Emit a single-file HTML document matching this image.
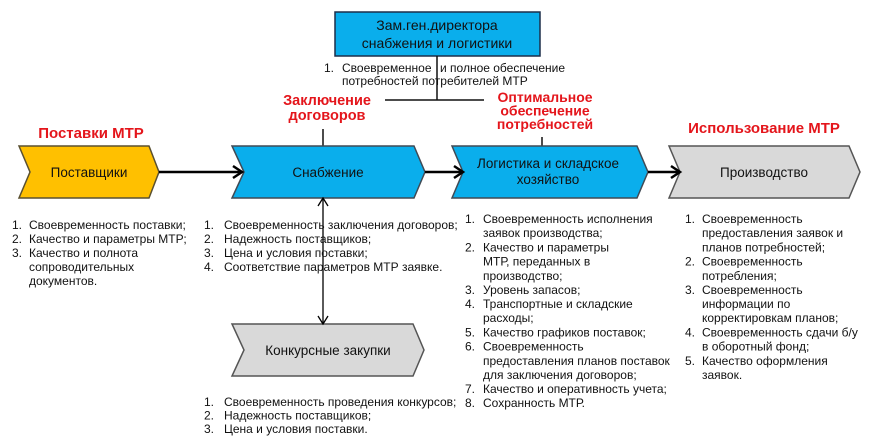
<!DOCTYPE html>
<html><head><meta charset="utf-8"><style>
html,body{margin:0;padding:0;background:#fff;}
svg{display:block;}
text{font-family:"Liberation Sans","DejaVu Sans",sans-serif;}
.l{font-size:12px;fill:#111;}
.c{font-size:13.5px;fill:#111;text-anchor:middle;}
.r{font-weight:bold;fill:#e4151b;text-anchor:middle;}
</style></head><body>
<svg width="870" height="446" viewBox="0 0 870 446" xmlns="http://www.w3.org/2000/svg">
<!-- director -->
<rect x="335" y="12" width="205" height="44" fill="#0aaeec" stroke="#1d2e4a" stroke-width="1.5"/>
<text x="437" y="30" style="font-size:14px;fill:#111" text-anchor="middle">Зам.ген.директора</text>
<text x="437" y="48" style="font-size:14px;fill:#111" text-anchor="middle">снабжения и логистики</text>
<text class="l" x="324" y="72">1.</text>
<text class="l" x="342" y="72">Своевременное</text>
<text class="l" x="440" y="72">и полное обеспечение</text>
<text class="l" x="342" y="85">потребностей потребителей МТР</text>
<line x1="437" y1="56" x2="437" y2="100" stroke="#111" stroke-width="1.5"/>
<line x1="385" y1="100" x2="484" y2="100" stroke="#111" stroke-width="1.5"/>
<line x1="323" y1="129" x2="323" y2="146" stroke="#111" stroke-width="1.5"/>
<line x1="542" y1="137" x2="542" y2="146" stroke="#111" stroke-width="1.5"/>

<!-- red labels -->
<text class="r" x="91" y="138" style="font-size:15px">Поставки МТР</text>
<text class="r" x="327" y="105" style="font-size:14.5px">Заключение</text>
<text class="r" x="327" y="120" style="font-size:14.5px">договоров</text>
<text class="r" x="545" y="102" style="font-size:14px">Оптимальное</text>
<text class="r" x="545" y="115.5" style="font-size:14px">обеспечение</text>
<text class="r" x="545" y="129" style="font-size:14px">потребностей</text>
<text class="r" x="764" y="133" style="font-size:15px">Использование МТР</text>

<!-- chevrons -->
<polygon points="19,146 149,146 159,172 149,198 19,198 30,172" fill="#ffc000" stroke="#5a5030" stroke-width="1.5"/>
<polygon points="232,146 414,146 425,172 414,198 232,198 244,172" fill="#0aaeec" stroke="#404a55" stroke-width="1.5"/>
<polygon points="452,146 637,146 648,172 637,198 452,198 463,172" fill="#0aaeec" stroke="#404a55" stroke-width="1.5"/>
<polygon points="669,146 849,146 860,172 849,198 669,198 680,172" fill="#d9d9d9" stroke="#555" stroke-width="1.5"/>
<polygon points="232,324 413,324 424,350 413,376 232,376 244,350" fill="#d9d9d9" stroke="#555" stroke-width="1.5"/>

<text class="c" x="89" y="177">Поставщики</text>
<text class="c" x="328" y="177">Снабжение</text>
<text class="c" x="548" y="168">Логистика и складское</text>
<text class="c" x="548" y="184">хозяйство</text>
<text class="c" x="764" y="177">Производство</text>
<text class="c" x="328" y="355">Конкурсные закупки</text>

<!-- arrows -->
<g stroke="#000" stroke-width="2.5" fill="none">
<line x1="159" y1="172" x2="241" y2="172"/>
<polyline points="233,166 242,172 233,178"/>
<line x1="425" y1="172" x2="462" y2="172"/>
<polyline points="454,166 463,172 454,178"/>
<line x1="648" y1="172" x2="679" y2="172"/>
<polyline points="671,166 680,172 671,178"/>
</g>
<g stroke="#000" stroke-width="1.3" fill="none">
<line x1="323" y1="199" x2="323" y2="323"/>
<polyline points="318,206 323,198 328,206"/>
<polyline points="318,316 323,324 328,316"/>
</g>

<!-- list 1 -->
<text class="l" x="12" y="229">1.</text><text class="l" x="29" y="229">Своевременность поставки;</text>
<text class="l" x="12" y="243">2.</text><text class="l" x="29" y="243">Качество и параметры МТР;</text>
<text class="l" x="12" y="257">3.</text><text class="l" x="29" y="257">Качество и полнота</text>
<text class="l" x="29" y="271">сопроводительных</text>
<text class="l" x="29" y="285">документов.</text>

<!-- list 2 -->
<text class="l" x="204" y="229">1.</text><text class="l" x="224" y="229">Своевременность заключения договоров;</text>
<text class="l" x="204" y="243">2.</text><text class="l" x="224" y="243">Надежность поставщиков;</text>
<text class="l" x="204" y="257">3.</text><text class="l" x="224" y="257">Цена и условия поставки;</text>
<text class="l" x="204" y="271">4.</text><text class="l" x="224" y="271">Соответствие параметров МТР заявке.</text>

<!-- list 3 -->
<text class="l" x="204" y="406">1.</text><text class="l" x="224" y="406">Своевременность проведения конкурсов;</text>
<text class="l" x="204" y="419.5">2.</text><text class="l" x="224" y="419.5">Надежность поставщиков;</text>
<text class="l" x="204" y="433">3.</text><text class="l" x="224" y="433">Цена и условия поставки.</text>

<!-- list 4 -->
<text class="l" x="465" y="223">1.</text><text class="l" x="483" y="223">Своевременность исполнения</text>
<text class="l" x="483" y="237">заявок производства;</text>
<text class="l" x="465" y="251.5">2.</text><text class="l" x="483" y="251.5">Качество и параметры</text>
<text class="l" x="483" y="265.5">МТР, переданных в</text>
<text class="l" x="483" y="280">производство;</text>
<text class="l" x="465" y="294">3.</text><text class="l" x="483" y="294">Уровень запасов;</text>
<text class="l" x="465" y="308">4.</text><text class="l" x="483" y="308">Транспортные и складские</text>
<text class="l" x="483" y="322">расходы;</text>
<text class="l" x="465" y="336.5">5.</text><text class="l" x="483" y="336.5">Качество графиков поставок;</text>
<text class="l" x="465" y="350.5">6.</text><text class="l" x="483" y="350.5">Своевременность</text>
<text class="l" x="483" y="365">предоставления планов поставок</text>
<text class="l" x="483" y="379">для заключения договоров;</text>
<text class="l" x="465" y="393">7.</text><text class="l" x="483" y="393">Качество и оперативность учета;</text>
<text class="l" x="465" y="407">8.</text><text class="l" x="483" y="407">Сохранность МТР.</text>

<!-- list 5 -->
<text class="l" x="685" y="223">1.</text><text class="l" x="702" y="223">Своевременность</text>
<text class="l" x="702" y="237">предоставления заявок и</text>
<text class="l" x="702" y="251.5">планов потребностей;</text>
<text class="l" x="685" y="265.5">2.</text><text class="l" x="702" y="265.5">Своевременность</text>
<text class="l" x="702" y="280">потребления;</text>
<text class="l" x="685" y="294">3.</text><text class="l" x="702" y="294">Своевременность</text>
<text class="l" x="702" y="308">информации по</text>
<text class="l" x="702" y="322">корректировкам планов;</text>
<text class="l" x="685" y="336.5">4.</text><text class="l" x="702" y="336.5">Своевременность сдачи б/у</text>
<text class="l" x="702" y="350.5">в оборотный фонд;</text>
<text class="l" x="685" y="365">5.</text><text class="l" x="702" y="365">Качество оформления</text>
<text class="l" x="702" y="379">заявок.</text>
</svg>
</body></html>
